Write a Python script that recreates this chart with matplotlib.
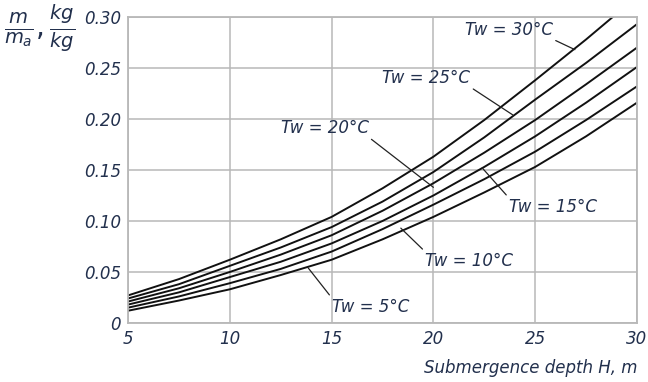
import matplotlib
matplotlib.use("Agg")
import matplotlib.pyplot as plt

depth = [5, 7.5, 10, 12.5, 15, 17.5, 20, 22.5, 25, 27.5, 30]
tw30 = [0.027, 0.043, 0.062, 0.082, 0.104, 0.132, 0.163, 0.199, 0.238, 0.278, 0.320]
tw25 = [0.024, 0.038, 0.056, 0.074, 0.094, 0.119, 0.148, 0.182, 0.219, 0.255, 0.293]
tw20 = [0.021, 0.034, 0.050, 0.067, 0.086, 0.110, 0.137, 0.167, 0.199, 0.234, 0.270]
tw15 = [0.018, 0.030, 0.045, 0.060, 0.078, 0.100, 0.125, 0.153, 0.183, 0.216, 0.251]
tw10 = [0.015, 0.026, 0.039, 0.053, 0.070, 0.092, 0.116, 0.141, 0.168, 0.199, 0.232]
tw5 = [0.012, 0.022, 0.033, 0.047, 0.062, 0.082, 0.104, 0.128, 0.153, 0.183, 0.216]
series = [tw30, tw25, tw20, tw15, tw10, tw5]

labels = ["Tw = 30°C", "Tw = 25°C", "Tw = 20°C", "Tw = 15°C", "Tw = 10°C", "Tw = 5°C"]
x_ticks = [5, 10, 15, 20, 25, 30]
y_ticks = [0, 0.05, 0.10, 0.15, 0.20, 0.25, 0.30]
y_ticklabels = ["0", "0.05", "0.10", "0.15", "0.20", "0.25", "0.30"]

txt_color = "#22304d"
grid_color = "#b8b8b8"

fig = plt.figure(figsize=(6.48, 3.82), dpi=100)
ax = fig.add_axes([0.1975, 0.1545, 0.7855, 0.801])

for s in series:
    ax.plot(depth, s, color="#111111", lw=1.4, solid_capstyle="butt")

ax.set_xlim(5, 30)
ax.set_ylim(0, 0.30)
ax.set_xticks(x_ticks)
ax.set_yticks(y_ticks)
ax.set_xticklabels([str(t) for t in x_ticks], fontsize=12, style="italic", color=txt_color)
ax.set_yticklabels(y_ticklabels, fontsize=12, style="italic", color=txt_color)
ax.tick_params(length=0, pad=5)
ax.grid(True, color=grid_color, lw=1.1)
for sp in ax.spines.values():
    sp.set_color(grid_color)
    sp.set_linewidth(1.3)

# annotations: (text position, arrow target)
ann = [
    ((21.55, 0.287), (26.95, 0.268)),
    ((17.5, 0.240), (23.9, 0.204)),
    ((12.5, 0.191), (20.0, 0.133)),
    ((23.7, 0.114), (22.4, 0.152)),
    ((19.6, 0.061), (18.4, 0.093)),
    ((15.0, 0.016), (13.85, 0.054)),
]
for lab, (tp, ap) in zip(labels, ann):
    ax.annotate(lab, xy=ap, xytext=tp, fontsize=12, style="italic", color=txt_color,
                ha="left", va="center",
                arrowprops=dict(arrowstyle="-", color="#222222", lw=0.9,
                                shrinkA=0, shrinkB=0, relpos=(1.0, 0.0) if tp[1] > ap[1] else (0.0, 1.0)))

fig.text(0.006, 0.925, r"$\frac{m}{m_a},\frac{kg}{kg}$", fontsize=20, color=txt_color,
         ha="left", va="center")
fig.text(637 / 648, 1 - 368 / 382, "Submergence depth H, m", fontsize=12, style="italic",
         color=txt_color, ha="right", va="center")

fig.savefig("out.png", dpi=100)
